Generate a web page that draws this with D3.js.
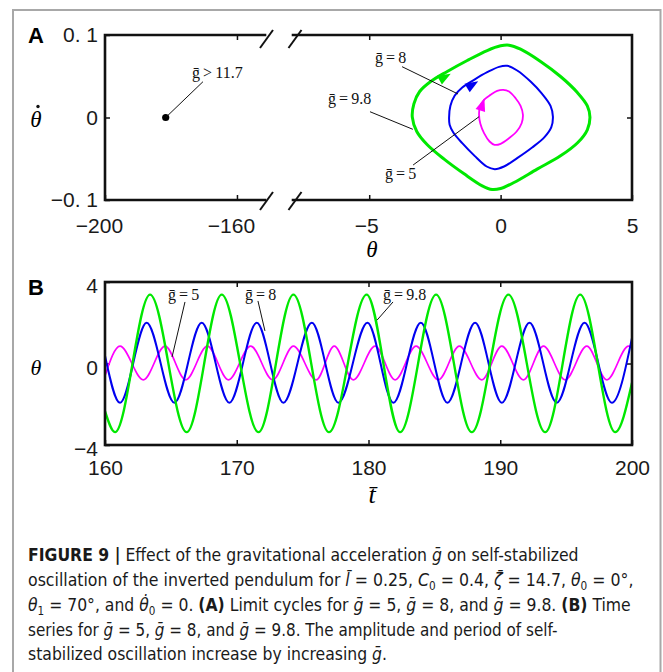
<!DOCTYPE html>
<html>
<head>
<meta charset="utf-8">
<script src="https://cdn.jsdelivr.net/npm/d3@7/dist/d3.min.js"></script>
<style>
  body { margin: 0; background: #fff; }
  svg { display: block; }
</style>
</head>
<body>
<svg id="fig" width="663" height="672"></svg>
<script>
// ---------- Panel A: limit cycles in the (θ, θ̇) plane, clockwise from the left extreme ----------
const cycleG5 = [
  [-0.82, 0.0032], [-0.79, 0.0125], [-0.63, 0.0214], [-0.38, 0.0275], [-0.13, 0.0323],
  [0.10, 0.0335], [0.32, 0.0315], [0.57, 0.0234], [0.76, 0.0141], [0.85, 0.0032],
  [0.80, -0.0069], [0.61, -0.0170], [0.32, -0.0251], [0.00, -0.0319], [-0.23, -0.0331],
  [-0.42, -0.0291], [-0.63, -0.0190], [-0.77, -0.0077]
];
const cycleG8 = [
  [-1.96, 0.0004], [-1.91, 0.0141], [-1.75, 0.0263], [-1.46, 0.0364], [-1.01, 0.0457],
  [-0.51, 0.0549], [-0.06, 0.0614], [0.25, 0.0626], [0.63, 0.0570], [1.14, 0.0436],
  [1.58, 0.0287], [1.90, 0.0141], [1.99, 0.0012], [1.93, -0.0117], [1.67, -0.0238],
  [1.20, -0.0364], [0.63, -0.0493], [0.13, -0.0594], [-0.22, -0.0626], [-0.53, -0.0594],
  [-0.99, -0.0465], [-1.46, -0.0311], [-1.80, -0.0182], [-1.94, -0.0089]
];
const cycleG98 = [
  [-3.36, 0.0004], [-3.30, 0.0166], [-3.08, 0.0315], [-2.66, 0.0436], [-2.03, 0.0558],
  [-1.27, 0.0691], [-0.51, 0.0812], [0.00, 0.0869], [0.32, 0.0877], [0.76, 0.0828],
  [1.52, 0.0679], [2.28, 0.0497], [2.92, 0.0303], [3.30, 0.0141], [3.40, 0.0004],
  [3.30, -0.0149], [2.94, -0.0303], [2.28, -0.0465], [1.39, -0.0626], [0.51, -0.0788],
  [0.00, -0.0861], [-0.32, -0.0873], [-0.70, -0.0828], [-1.39, -0.0683], [-2.15, -0.0505],
  [-2.79, -0.0331], [-3.19, -0.0170]
];
// arrowheads showing the direction of travel on each cycle
const arrowG5 = [-0.70, 0.0154];
const arrowG8 = [-1.08, 0.0396];
const arrowG98 = [-2.13, 0.0489];
// stable equilibrium reached for ḡ > 11.7
const fixedPoint = [-181.6, 0];

// ---------- Panel B: time series θ(t̄) (turning points) ----------
const seriesG5 = [
  [160, -0.60], [161.14, 0.85], [162.91, -0.80], [164.56, 0.85], [166.13, -0.80],
  [167.77, 0.85], [169.37, -0.80], [171.06, 0.85], [172.73, -0.80], [174.30, 0.85],
  [176.03, -0.80], [177.40, 0.85], [178.85, -0.80], [180.50, 0.85], [182.02, -0.80],
  [183.61, 0.85], [185.30, -0.80], [186.90, 0.85], [188.60, -0.80], [190.12, 0.85],
  [191.76, -0.80], [193.28, 0.85], [194.93, -0.80], [196.57, 0.85], [198.09, -0.80],
  [199.74, 0.85], [200, 0.82]
];
const seriesG8 = [
  [160, 0.38], [161.14, -1.93], [163.16, 2.00], [165.27, -1.93], [167.34, 2.00],
  [169.44, -1.93], [171.52, 2.00], [173.54, -1.93], [175.70, 2.00], [177.72, -1.93],
  [179.92, 2.00], [181.89, -1.93], [183.97, 2.00], [185.99, -1.93], [188.09, 2.00],
  [190.12, -1.93], [192.22, 2.00], [194.29, -1.93], [196.40, 2.00], [198.47, -1.93],
  [200, 1.26]
];
const seriesG98 = [
  [160, -2.34], [160.76, -3.37], [163.42, 3.38], [166.20, -3.37], [168.86, 3.38],
  [171.65, -3.37], [174.30, 3.38], [177.00, -3.37], [179.86, 3.38], [182.40, -3.37],
  [185.13, 3.38], [187.84, -3.37], [190.62, 3.38], [193.41, -3.37], [196.07, 3.38],
  [198.73, -3.37], [200, -0.95]
];

// ---------- ticks ----------
const xTicksALeft = [-200, -160];
const xTicksARight = [-5, 0, 5];
const xTickLabelsALeft = ["−200", "−160"];
const xTickLabelsARight = ["−5", "0", "5"];
const yTicksA = [-0.1, 0, 0.1];
const yTickLabelsA = ["−0. 1", "0", "0. 1"];
const xTicksB = [160, 170, 180, 190, 200];
const xTickLabelsB = ["160", "170", "180", "190", "200"];
const yTicksB = [-4, 0, 4];
const yTickLabelsB = ["−4", "0", "4"];

// ---------- styles ----------
const MAGENTA = "#ff00ff", BLUE = "#0000f0", GREEN = "#00e800";
const SANS = "'Liberation Sans', Arial, sans-serif";
const SERIF = "'Liberation Serif', 'Times New Roman', serif";
const NARROW = "'Liberation Sans Narrow', 'DejaVu Sans Condensed', 'Liberation Sans', sans-serif";

const svg = d3.select("#fig");

// figure border
svg.append("path")
  .attr("d", "M13,672 V10 H660.5 V672")
  .attr("fill", "none").attr("stroke", "#a8a8a8").attr("stroke-width", 2);

// ================= PANEL A =================
const xA1 = d3.scaleLinear().domain([-200, -151.5]).range([105, 265]);
const xA2 = d3.scaleLinear().domain([-7.9, 5]).range([293, 632]);
const yA = d3.scaleLinear().domain([-0.1, 0.1]).range([200, 35]);

const gA = svg.append("g");

function styleAxis(g, size) {
  g.select(".domain").remove();
  g.selectAll(".tick line").attr("stroke", "#111").attr("stroke-width", 1.5);
  g.selectAll(".tick text").attr("fill", "#1a1a1a")
    .attr("font-family", SANS).attr("font-size", size);
  g.attr("font-family", null).attr("font-size", null);
}

// bottom ticks + labels
gA.append("g").attr("transform", `translate(0,${yA(-0.1)})`)
  .call(d3.axisBottom(xA1).tickValues(xTicksALeft).tickSize(-5).tickPadding(18)
    .tickFormat((d, i) => xTickLabelsALeft[i]))
  .call(g => styleAxis(g, 21))
  .selectAll(".tick text").attr("dx", -6);
gA.append("g").attr("transform", `translate(0,${yA(-0.1)})`)
  .call(d3.axisBottom(xA2).tickValues(xTicksARight).tickSize(-5).tickPadding(18)
    .tickFormat((d, i) => xTickLabelsARight[i]))
  .call(g => styleAxis(g, 21))
  .selectAll(".tick text").attr("dx", d => d < 0 ? -3 : 0);
// top ticks
gA.append("g").attr("transform", `translate(0,${yA(0.1)})`)
  .call(d3.axisTop(xA1).tickValues(xTicksALeft.slice(1)).tickSize(-5).tickFormat(""))
  .call(g => styleAxis(g, 21));
gA.append("g").attr("transform", `translate(0,${yA(0.1)})`)
  .call(d3.axisTop(xA2).tickValues(xTicksARight.slice(0, 2)).tickSize(-5).tickFormat(""))
  .call(g => styleAxis(g, 21));
// left / right ticks
gA.append("g").attr("transform", `translate(${xA1(-200)},0)`)
  .call(d3.axisLeft(yA).tickValues(yTicksA).tickSize(-5).tickPadding(7)
    .tickFormat((d, i) => yTickLabelsA[i]))
  .call(g => styleAxis(g, 21));
gA.append("g").attr("transform", `translate(${xA2(5)},0)`)
  .call(d3.axisRight(yA).tickValues([0]).tickSize(-5).tickFormat(""))
  .call(g => styleAxis(g, 21));

// broken frame
const frameA = d3.path();
frameA.moveTo(xA1.range()[1], yA(0.1)); frameA.lineTo(xA1(-200), yA(0.1));
frameA.lineTo(xA1(-200), yA(-0.1)); frameA.lineTo(xA1.range()[1], yA(-0.1));
frameA.moveTo(xA2.range()[0], yA(0.1)); frameA.lineTo(xA2(5), yA(0.1));
frameA.lineTo(xA2(5), yA(-0.1)); frameA.lineTo(xA2.range()[0], yA(-0.1));
gA.append("path").attr("d", frameA.toString())
  .attr("fill", "none").attr("stroke", "#111").attr("stroke-width", 2.6)
  .attr("stroke-linecap", "square");

// axis break marks
const breakXs = [xA1.range()[1] + 1.5, xA2.range()[0] + 2];
const breakYs = [yA(0.1) + 4, yA(-0.1) + 1];
breakXs.forEach(bx => breakYs.forEach(by => {
  gA.append("line")
    .attr("x1", bx - 6.5).attr("y1", by + 9).attr("x2", bx + 6.5).attr("y2", by - 9)
    .attr("stroke", "#111").attr("stroke-width", 2);
}));

// limit cycles
const lineA = d3.line().x(d => xA2(d[0])).y(d => yA(d[1])).curve(d3.curveCatmullRomClosed.alpha(0.5));
[[cycleG98, GREEN, 3], [cycleG8, BLUE, 2], [cycleG5, MAGENTA, 1.8]].forEach(([pts, col, w]) => {
  gA.append("path").datum(pts).attr("d", lineA)
    .attr("fill", "none").attr("stroke", col).attr("stroke-width", w);
});

// direction arrowheads, oriented along the local tangent of the cycle
function tangentAngle(pts, p) {
  let best = 0, bd = Infinity;
  pts.forEach((q, i) => {
    const d = (xA2(q[0]) - xA2(p[0])) ** 2 + (yA(q[1]) - yA(p[1])) ** 2;
    if (d < bd) { bd = d; best = i; }
  });
  const n = pts.length;
  const a = pts[(best - 1 + n) % n], b = pts[(best + 1) % n];
  return Math.atan2(yA(b[1]) - yA(a[1]), xA2(b[0]) - xA2(a[0])) * 180 / Math.PI;
}
[[arrowG98, cycleG98, GREEN], [arrowG8, cycleG8, BLUE], [arrowG5, cycleG5, MAGENTA]].forEach(([p, pts, col]) => {
  gA.append("path").attr("d", "M7,0 L-6,-5 L-6,5 Z")
    .attr("transform", `translate(${xA2(p[0])},${yA(p[1])}) rotate(${tangentAngle(pts, p)})`)
    .attr("fill", col);
});

// equilibrium point
gA.append("circle").attr("cx", xA1(fixedPoint[0])).attr("cy", yA(fixedPoint[1]))
  .attr("r", 3.6).attr("fill", "#000");

// annotations: label position and leader line (data coordinates)
const annA = [
  { text: ">\u200911.7", sx: xA1, at: [-173.6, 0.0479], from: [-170.3, 0.0434], to: fixedPoint },
  { text: "=\u20098", sx: xA2, at: [-4.78, 0.0661], from: [-3.75, 0.0616], to: [-1.62, 0.0285] },
  { text: "=\u20099.8", sx: xA2, at: [-6.57, 0.0164], from: [-4.97, 0.0070], to: [-3.34, -0.0143] },
  { text: "=\u20095", sx: xA2, at: [-4.40, -0.0745], from: [-3.33, -0.0576], to: [-0.82, 0.0010] }
];
function gLabel(g, x, y, rest) {
  const t = g.append("text").attr("x", x).attr("y", y)
    .attr("font-family", SERIF).attr("font-size", 16).attr("fill", "#111");
  t.append("tspan").text("g\u0304");
  t.append("tspan").attr("dx", 3).text(rest);
}
annA.forEach(a => {
  gA.append("line")
    .attr("x1", a.sx(a.from[0])).attr("y1", yA(a.from[1]))
    .attr("x2", a.sx(a.to[0])).attr("y2", yA(a.to[1]))
    .attr("stroke", "#111").attr("stroke-width", 1);
  gLabel(gA, a.sx(a.at[0]), yA(a.at[1]), a.text);
});

// titles
svg.append("text").attr("x", 28).attr("y", 43).text("A")
  .attr("font-family", SANS).attr("font-weight", "bold").attr("font-size", 22);
svg.append("text").attr("x", 36).attr("y", 127).attr("text-anchor", "middle")
  .attr("font-family", SERIF).attr("font-style", "italic").attr("font-size", 23).text("θ");
svg.append("circle").attr("cx", 38).attr("cy", 106.5).attr("r", 1.7).attr("fill", "#111");
svg.append("text").attr("x", 372).attr("y", 257).attr("text-anchor", "middle")
  .attr("font-family", SERIF).attr("font-style", "italic").attr("font-size", 23).text("θ");

// ================= PANEL B =================
const xB = d3.scaleLinear().domain([160, 200]).range([105, 632]);
const yB = d3.scaleLinear().domain([-4, 4]).range([445, 282]);
const gB = svg.append("g");

gB.append("g").attr("transform", `translate(0,${yB(-4)})`)
  .call(d3.axisBottom(xB).tickValues(xTicksB).tickSize(-5).tickPadding(15)
    .tickFormat((d, i) => xTickLabelsB[i]))
  .call(g => styleAxis(g, 21));
gB.append("g").attr("transform", `translate(0,${yB(4)})`)
  .call(d3.axisTop(xB).tickValues(xTicksB.slice(1, 4)).tickSize(-5).tickFormat(""))
  .call(g => styleAxis(g, 21));
gB.append("g").attr("transform", `translate(${xB(160)},0)`)
  .call(d3.axisLeft(yB).tickValues(yTicksB).tickSize(-5).tickPadding(7)
    .tickFormat((d, i) => yTickLabelsB[i]))
  .call(g => styleAxis(g, 21))
  .selectAll(".tick text").attr("dy", "0.5em");
gB.append("g").attr("transform", `translate(${xB(200)},0)`)
  .call(d3.axisRight(yB).tickValues([0]).tickSize(-5).tickFormat(""))
  .call(g => styleAxis(g, 21));

svg.append("clipPath").attr("id", "clipB").append("rect")
  .attr("x", xB(160)).attr("y", yB(4)).attr("width", xB(200) - xB(160)).attr("height", yB(-4) - yB(4));

const lineB = d3.line().x(d => xB(d[0])).y(d => yB(d[1])).curve(d3.curveMonotoneX);
[[seriesG5, MAGENTA, 1.7], [seriesG8, BLUE, 2], [seriesG98, GREEN, 2.4]].forEach(([pts, col, w]) => {
  gB.append("path").datum(pts).attr("d", lineB).attr("clip-path", "url(#clipB)")
    .attr("fill", "none").attr("stroke", col).attr("stroke-width", w);
});

gB.append("rect").attr("x", xB(160)).attr("y", yB(4))
  .attr("width", xB(200) - xB(160)).attr("height", yB(-4) - yB(4))
  .attr("fill", "none").attr("stroke", "#111").attr("stroke-width", 2.6);

const annB = [
  { text: "=\u20095", at: [164.78, 3.12], from: [166.07, 3.02], to: [165.09, 0.32] },
  { text: "=\u20098", at: [170.63, 3.12], from: [171.61, 3.07], to: [172.14, 1.60] },
  { text: "=\u20099.8", at: [181.10, 3.12], from: [181.86, 3.02], to: [180.65, 2.13] }
];
annB.forEach(a => {
  gB.append("line")
    .attr("x1", xB(a.from[0])).attr("y1", yB(a.from[1]))
    .attr("x2", xB(a.to[0])).attr("y2", yB(a.to[1]))
    .attr("stroke", "#111").attr("stroke-width", 1);
  gLabel(gB, xB(a.at[0]), yB(a.at[1]), a.text);
});

svg.append("text").attr("x", 28).attr("y", 295).text("B")
  .attr("font-family", SANS).attr("font-weight", "bold").attr("font-size", 22);
svg.append("text").attr("x", 36).attr("y", 375).attr("text-anchor", "middle")
  .attr("font-family", SERIF).attr("font-style", "italic").attr("font-size", 22).text("θ");
svg.append("text").attr("x", 372).attr("y", 503).attr("text-anchor", "middle")
  .attr("font-family", SERIF).attr("font-style", "italic").attr("font-size", 26).text("t\u0304");

// ================= CAPTION =================
const G = { t: "g\u0304", i: true };
const captionLines = [
  [{ t: "FIGURE 9 ", b: true }, { t: "|", b: true }, { t: " Effect of the gravitational acceleration " }, G, { t: " on self-stabilized" }],
  [{ t: "oscillation of the inverted pendulum for " }, { t: "l\u0304", i: true }, { t: " = 0.25, " },
   { t: "C", i: true }, { t: "0", sub: true }, { t: " = 0.4, " }, { t: "ζ\u0304", i: true }, { t: " = 14.7, " },
   { t: "θ", i: true }, { t: "0", sub: true }, { t: " = 0°," }],
  [{ t: "θ", i: true }, { t: "1", sub: true }, { t: " = 70°, and " }, { t: "θ\u0307", i: true }, { t: "0", sub: true },
   { t: " = 0. " }, { t: "(A)", b: true }, { t: " Limit cycles for " }, G, { t: " = 5, " }, G, { t: " = 8, and " }, G,
   { t: " = 9.8. " }, { t: "(B)", b: true }, { t: " Time" }],
  [{ t: "series for " }, G, { t: " = 5, " }, G, { t: " = 8, and " }, G, { t: " = 9.8. The amplitude and period of self-" }],
  [{ t: "stabilized oscillation increase by increasing " }, G, { t: "." }]
];
const capBase = [561, 586, 611, 636, 660];
const capWidth = [551, 606, 603, 530, 359];
captionLines.forEach((runs, li) => {
  const t = svg.append("text").attr("x", 0).attr("y", 0)
    .attr("font-family", NARROW).attr("font-size", 18).attr("fill", "#1a1a1a");
  let shifted = false;
  runs.forEach(r => {
    const ts = t.append("tspan").text(r.t);
    if (r.b) ts.attr("font-weight", "bold");
    if (r.i) ts.attr("font-style", "italic");
    if (r.sub) { ts.attr("dy", 4).attr("font-size", 12); shifted = true; }
    else if (shifted) { ts.attr("dy", -4); shifted = false; }
  });
  // condense each line horizontally to its set width
  const k = capWidth[li] / t.node().getComputedTextLength();
  t.attr("transform", `translate(28,${capBase[li]}) scale(${k},1)`);
});
</script>
</body>
</html>
